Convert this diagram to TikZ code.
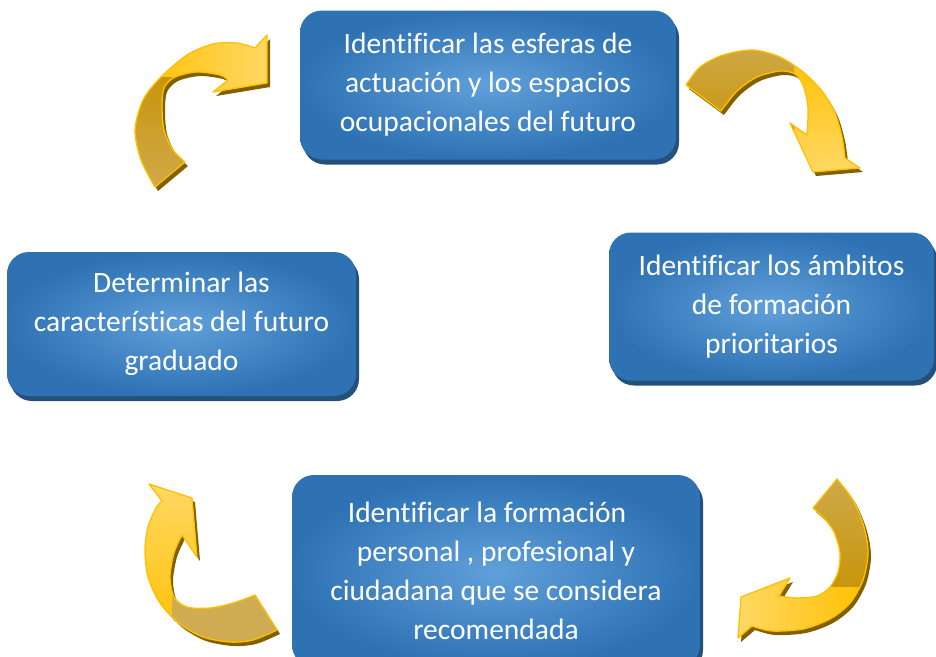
\documentclass[tikz,border=0pt]{standalone}
\usepackage{fontspec}
\setmainfont{Carlito}[Ligatures=CommonOff]
\usepackage{tikz}
\usetikzlibrary{positioning}
\usetikzlibrary{shadows}
\definecolor{boxblue}{RGB}{46,114,180}
\definecolor{boxlight}{RGB}{96,160,218}
\definecolor{boxshade}{RGB}{36,80,122}
\definecolor{headgold}{RGB}{255,192,0}
\definecolor{headlight}{RGB}{255,216,100}
\definecolor{tailtan}{RGB}{207,172,82}
\definecolor{taildark}{RGB}{200,150,12}
\definecolor{goldshade}{RGB}{128,96,0}
\newcommand{\curvenw}{(155,187) -- plot[smooth] coordinates {(155,187) (141,160) (135,130) (143,100) (160,78) (187,55) (213,44) (237,43) (255,48)} -- (267,35) -- (267,83) -- (213,92) -- (228,80) -- plot[smooth] coordinates {(228,80) (220,75) (197,72) (175,77) (164,88) (162,107) (164,130) (173,150) (185,162)} -- cycle}
\newcommand{\curvene}{(686,85) -- plot[smooth] coordinates {(686,85) (700,67) (723,55) (753,50) (780,57) (803,72) (822,91) (835,113) (842,137) (845,158)} -- (860,168) -- (813,172) -- (790,123) -- (807,135) -- plot[smooth] coordinates {(807,135) (808,107) (803,85) (795,74) (780,71) (757,77) (737,91) (721,111)} -- cycle}
\newcommand{\curvese}{(837,479) -- plot[smooth] coordinates {(837,479) (853,500) (864,527) (868,553) (863,580) (850,603) (830,619) (803,629) (772,631) (752,626)} -- (738,638) -- (741,597) -- (790,578) -- (779,596) -- plot[smooth] coordinates {(779,596) (797,598) (817,596) (830,587) (838,572) (840,553) (834,532) (824,518) (813,508)} -- cycle}
\newcommand{\curvesw}{(277,630) -- plot[smooth] coordinates {(277,630) (253,640) (230,642) (203,637) (180,624) (160,603) (148,577) (145,550) (148,527) (156,508) (162,501)} -- (149,484) -- (192,498) -- (197,557) -- (182,535) -- plot[smooth] coordinates {(182,535) (174,553) (170,577) (174,597) (187,607) (210,608) (233,603) (255,595)} -- cycle}

\begin{document}
\begin{tikzpicture}[x=1pt, y=-1pt,
    every node/.style = {rectangle, rounded corners=22pt, inner sep=0pt, shading=radial, inner color=boxlight, outer color=boxblue, text=white, align=center, font=\fontsize{29.5}{39}\selectfont, drop shadow={shadow xshift=3pt, shadow yshift=-5pt, fill=boxshade, opacity=1}},
    arrowshadow/.style = {fill=goldshade, shift={(3,4)}},
    arrowline/.style = {draw=headgold, line width=1.3pt, line join=round}
    ]
    \useasboundingbox (0,0) rectangle (936,656);
    \node[minimum width=376pt, minimum height=149pt] (1) at (488,85) {Identificar las esferas de\\actuación y los espacios\\ocupacionales del futuro};
    \node[minimum width=325pt, minimum height=148pt] (2) at (771.5,306.5) {Identificar los ámbitos\\de formación\\prioritarios};
    \node[minimum width=408pt, minimum height=192pt] (3) at (496,571) {Identificar la formación\hspace*{18pt}\\personal , profesional y\\ciudadana que se considera\\recomendada};
    \node[minimum width=349pt, minimum height=144pt] (4) at (181.5,324) {Determinar las\\características del futuro\\graduado};

    \fill[arrowshadow] \curvenw;
    \shade[left color=headgold, right color=headlight] \curvenw;
    \begin{scope}
    \clip \curvenw;
    \shade[top color=taildark, bottom color=tailtan] (100,77) rectangle (200,200);
    \end{scope}
    \draw[arrowline] \curvenw;

    \fill[arrowshadow] \curvene;
    \shade[top color=headgold, bottom color=headlight] \curvene;
    \begin{scope}
    \clip \curvene;
    \shade[top color=tailtan, bottom color=taildark] (670,30) rectangle (794,130);
    \end{scope}
    \draw[arrowline] \curvene;

    \fill[arrowshadow] \curvese;
    \shade[right color=headgold, left color=headlight] \curvese;
    \begin{scope}
    \clip \curvese;
    \shade[top color=tailtan, bottom color=taildark] (790,460) rectangle (890,586);
    \end{scope}
    \draw[arrowline] \curvese;

    \fill[arrowshadow] \curvesw;
    \shade[bottom color=headgold, top color=headlight] \curvesw;
    \begin{scope}
    \clip \curvesw;
    \fill[tailtan] (172,590) rectangle (300,660);
    \end{scope}
    \draw[arrowline] \curvesw;
\end{tikzpicture}
\end{document}
